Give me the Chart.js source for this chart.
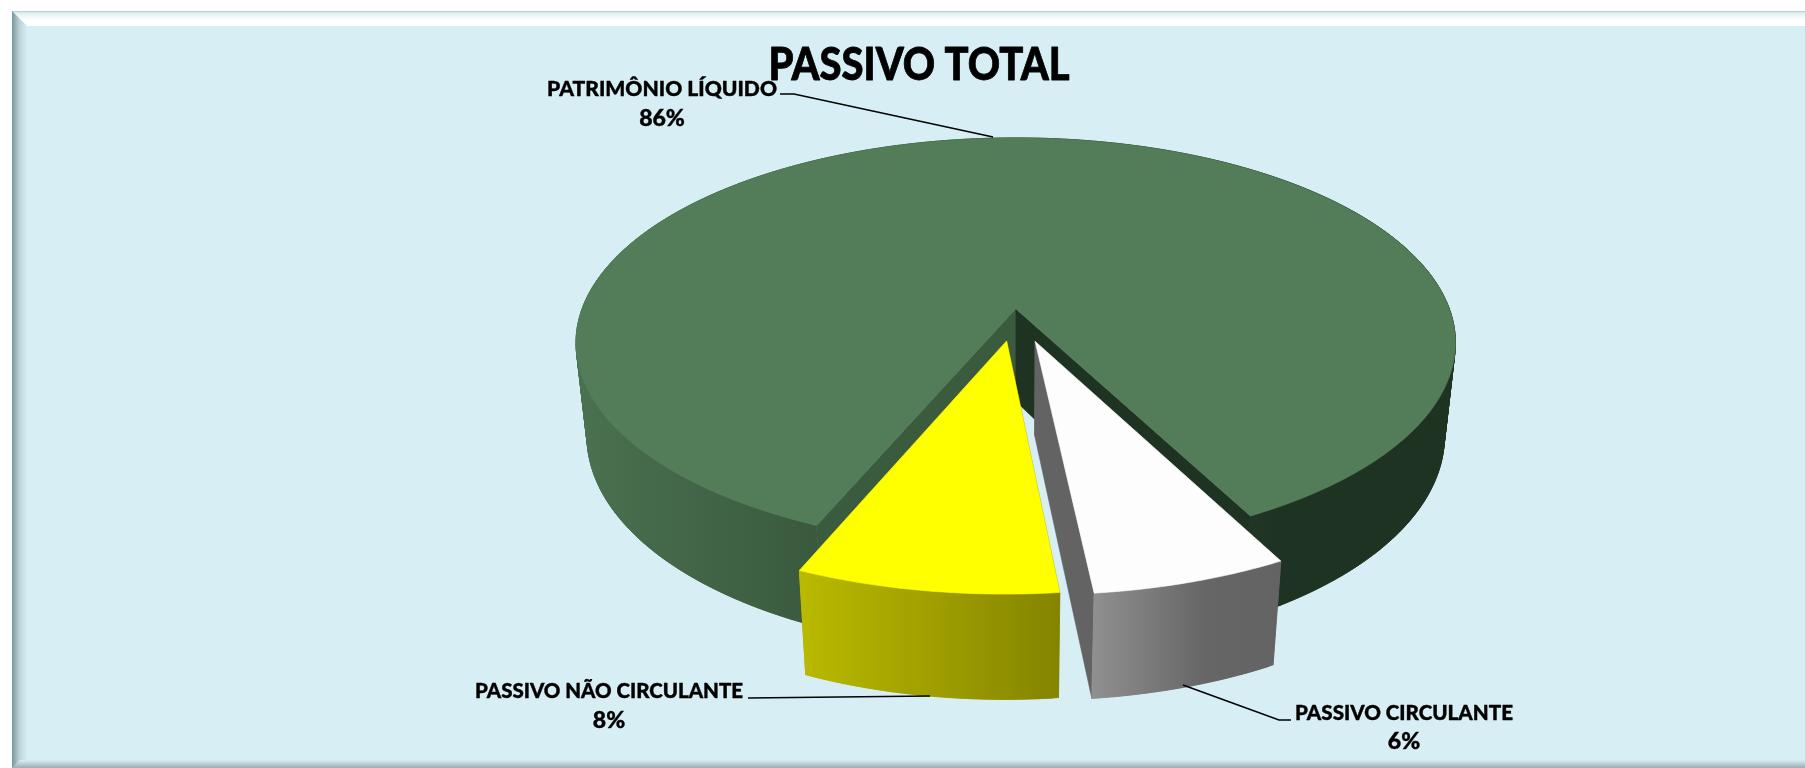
<!DOCTYPE html>
<html lang="pt-BR">
<head>
  <meta charset="utf-8">
  <title>Passivo Total</title>
  <script src="https://cdn.jsdelivr.net/npm/chart.js"></script>
  <style>
    html, body { margin: 0; padding: 0; background: #fff; }
    canvas { display: block; }
  </style>
</head>
<body>
  <canvas id="chart" width="1805" height="768"></canvas>

  <script>
    const categories = ["PATRIMÔNIO LÍQUIDO", "PASSIVO CIRCULANTE", "PASSIVO NÃO CIRCULANTE"];
    const shares = [86, 6, 8];
    const topColors = ["#527D58", "#FDFDFD", "#FFFF00"];
    const startFaceColors = ["#3A5B3E", "#6B6B6B", "#848400"];
    const endFaceColors = ["#1F3322", "#636363", "#848400"];
    const wallStops = [
      [[0, "#4A7150"], [0.27, "#3A5A3E"], [0.8, "#1F3322"], [1, "#1F3322"]],
      [[0, "#909090"], [0.6, "#666666"], [1, "#636363"]],
      [[0, "#BABA00"], [1, "#848400"]]
    ];
    const explode = [7, 65, 62];

    const chartTitle = "PASSIVO TOTAL";
    // callouts: text block centre plus leader polyline
    const callouts = [
      { cx: 662, y: 89, pctY: 119, leader: [[780, 94], [794, 94], [993, 137]] },
      { cx: 1404, y: 713, pctY: 742, leader: [[1183, 685], [1279, 720], [1291, 720]] },
      { cx: 609, y: 691, pctY: 721, leader: [[748, 698], [930, 696]] }
    ];
    const labelWidths = [230, 218, 268];

    // pie camera: foreshortening, perspective, thickness (in radii)
    const TILT = 0.4607, PERSP = 0.1663, THICK = 0.2185, THICK_PERSP = 0.025;

    const project = (cx, cy, r, u, v, z) => {
      const w = 1 - PERSP * v + THICK_PERSP * z;
      return [cx + r * u / w, cy + r * (TILT * v + THICK * z) / w];
    };

    const fillPoly = (ctx, pts, color) => {
      ctx.beginPath();
      pts.forEach((p, i) => i ? ctx.lineTo(p[0], p[1]) : ctx.moveTo(p[0], p[1]));
      ctx.closePath();
      ctx.fillStyle = color;
      ctx.strokeStyle = color;
      ctx.lineWidth = 0.6;
      ctx.fill();
      ctx.stroke();
    };

    // slice with a perspective top face, cut faces and rim wall
    class Arc3D extends Chart.ArcElement {
      static id = "arc3d";

      draw(ctx) {
        const { x, y, startAngle, endAngle, outerRadius: r } = this.getProps(["x", "y", "startAngle", "endAngle", "outerRadius"]);
        const idx = this.$context.dataIndex;
        const mid = (startAngle + endAngle) / 2;
        const du = (this.options.offset || 0) * Math.cos(mid) / r;
        const dv = (this.options.offset || 0) * Math.sin(mid) / r;
        const rim = (a, z) => project(x, y, r, Math.cos(a) + du, Math.sin(a) + dv, z);
        const hub = (z) => project(x, y, r, du, dv, z);

        const steps = Math.max(8, Math.ceil((endAngle - startAngle) / 0.01));
        const angles = [];
        for (let i = 0; i <= steps; i++) angles.push(startAngle + (endAngle - startAngle) * i / steps);

        ctx.save();
        fillPoly(ctx, [hub(0), rim(startAngle, 0), rim(startAngle, 1), hub(1)], startFaceColors[idx]);
        fillPoly(ctx, [hub(0), rim(endAngle, 0), rim(endAngle, 1), hub(1)], endFaceColors[idx]);

        const topEdge = angles.map(a => rim(a, 0));
        const bottomEdge = angles.map(a => rim(a, 1));
        const xs = [...topEdge, ...bottomEdge].map(p => p[0]);
        const wall = ctx.createLinearGradient(Math.min(...xs), 0, Math.max(...xs), 0);
        wallStops[idx].forEach(s => wall.addColorStop(s[0], s[1]));
        // wall quads overlap their neighbour so no seams show between them
        for (let i = 0; i < steps; i++) {
          const j = Math.min(i + 2, steps);
          fillPoly(ctx, [topEdge[i], topEdge[j], bottomEdge[j], bottomEdge[i]], wall);
        }

        fillPoly(ctx, [hub(0), ...topEdge], this.options.backgroundColor);
        ctx.restore();
      }
    }

    class Pie3DController extends Chart.PieController {
      static id = "pie3d";
      static defaults = { dataElementType: "arc3d" };
      static overrides = Chart.PieController.overrides;
    }

    Chart.register(Arc3D, Pie3DController);

    // panel fill and bevelled edge
    const panelPlugin = {
      id: "panel",
      beforeDraw(chart) {
        const { ctx, width, height } = chart;
        const l = 12, t = 11, bevel = 15, base = "#D7EEF5";
        ctx.save();
        ctx.fillStyle = "#fff";
        ctx.fillRect(0, 0, width, height);
        ctx.fillStyle = base;
        ctx.fillRect(l, t, width - l, height - t);

        let g = ctx.createLinearGradient(0, t, 0, t + bevel);
        g.addColorStop(0, "#B3C4C9");
        g.addColorStop(0.12, "#DCF0F3");
        g.addColorStop(0.6, "#FFFFFF");
        g.addColorStop(1, "#FFFFFF");
        ctx.fillStyle = g;
        ctx.beginPath();
        ctx.moveTo(l, t);
        ctx.lineTo(width, t);
        ctx.lineTo(width, t + bevel);
        ctx.lineTo(l + bevel, t + bevel);
        ctx.closePath();
        ctx.fill();

        g = ctx.createLinearGradient(l, 0, l + bevel, 0);
        g.addColorStop(0, "#7C969F");
        g.addColorStop(0.5, "#BCD2D9");
        g.addColorStop(1, base);
        ctx.fillStyle = g;
        ctx.beginPath();
        ctx.moveTo(l, t);
        ctx.lineTo(l + bevel, t + bevel);
        ctx.lineTo(l + bevel, height - 8);
        ctx.lineTo(l, height);
        ctx.closePath();
        ctx.fill();

        g = ctx.createLinearGradient(0, height - 8, 0, height);
        g.addColorStop(0, base);
        g.addColorStop(1, "#9AADB3");
        ctx.fillStyle = g;
        ctx.beginPath();
        ctx.moveTo(l, height);
        ctx.lineTo(l + 8, height - 8);
        ctx.lineTo(width, height - 8);
        ctx.lineTo(width, height);
        ctx.closePath();
        ctx.fill();
        ctx.restore();
      }
    };

    const putText = (ctx, text, cx, cy, size, targetWidth, weight) => {
      ctx.font = "900 " + size + "px Lato";
      const natural = ctx.measureText(text).width;
      ctx.save();
      ctx.translate(cx, cy);
      if (targetWidth) ctx.scale(targetWidth / natural, 1);
      ctx.lineWidth = weight;
      ctx.lineJoin = "round";
      ctx.strokeText(text, 0, 0);
      ctx.fillText(text, 0, 0);
      ctx.restore();
    };

    const calloutPlugin = {
      id: "callouts",
      afterDatasetsDraw(chart) {
        const { ctx } = chart;
        ctx.save();
        ctx.textAlign = "center";
        ctx.textBaseline = "middle";
        ctx.fillStyle = "#000";
        ctx.strokeStyle = "#000";
        putText(ctx, chartTitle, 919, 65, 46, 301, 0.8);

        callouts.forEach((c, i) => {
          ctx.beginPath();
          c.leader.forEach((p, j) => j ? ctx.lineTo(p[0], p[1]) : ctx.moveTo(p[0], p[1]));
          ctx.lineWidth = 1.6;
          ctx.stroke();
          putText(ctx, categories[i], c.cx, c.y, 21, labelWidths[i], 0.4);
          putText(ctx, shares[i] + "%", c.cx, c.pctY, 23, 0, 0.4);
        });
        ctx.restore();
      }
    };

    new Chart(document.getElementById("chart"), {
      type: "pie3d",
      data: {
        labels: categories,
        datasets: [{
          data: shares,
          backgroundColor: topColors,
          offset: explode,
          borderWidth: 0
        }]
      },
      options: {
        responsive: false,
        animation: false,
        rotation: 202.9,
        radius: 434.8,
        layout: { padding: { left: 227, bottom: 144 } },
        plugins: {
          legend: { display: false },
          tooltip: { enabled: false }
        }
      },
      plugins: [panelPlugin, calloutPlugin]
    });
  </script>
</body>
</html>
